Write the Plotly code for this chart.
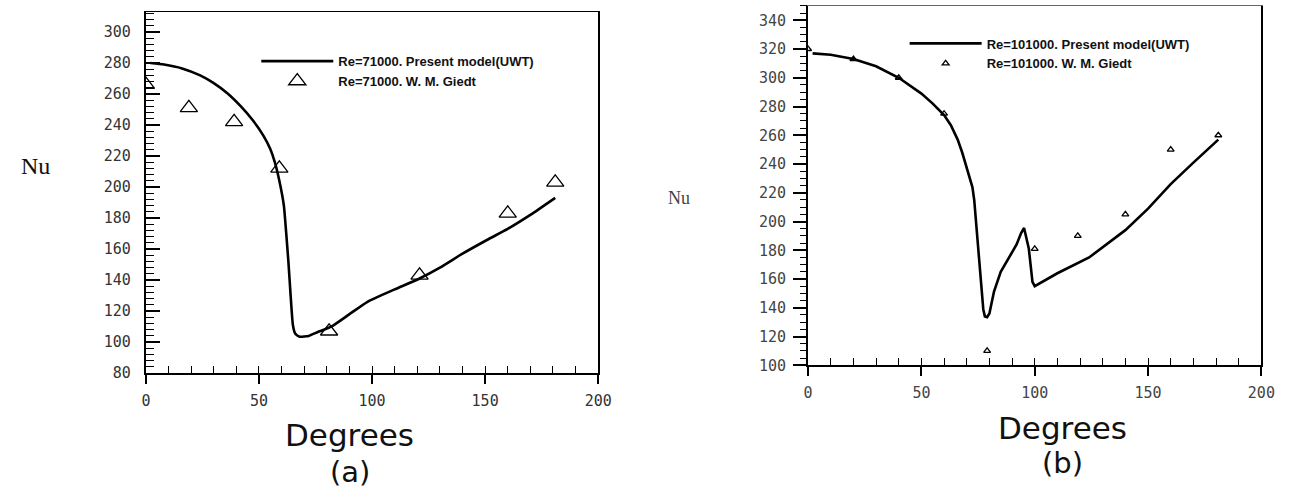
import plotly.graph_objects as go

# ---------------- data: panel (a) Re=71000 ----------------
deg_a_model = [2, 8, 16, 24, 30, 36, 42, 47, 52, 55, 57, 59, 61, 62, 63, 64, 65, 66, 68,
               72, 76, 82, 90, 98, 110, 121, 130, 140, 151, 160, 170, 181]
nu_a_model = [280, 279, 276.5, 272, 267, 260.5, 252, 243.5, 233, 224.5, 216, 204, 188,
              171, 152, 130, 111, 105.5, 103.5, 104, 106.5, 110, 118, 126, 134, 141,
              148, 157, 166, 173, 182, 193]
deg_a_exp = [0, 19, 39, 59, 81, 121, 160, 181]
nu_a_exp = [266, 251, 242, 212, 107, 143, 183, 203]

# ---------------- data: panel (b) Re=101000 ----------------
deg_b_model = [2, 10, 20, 30, 40, 50, 55, 60, 63, 66, 68, 70, 71.5, 72.5, 73.3, 74,
               74.6, 75.5, 76.5, 77.3, 78, 79, 80, 81, 82, 85, 88, 90, 92, 94, 95.3,
               97.4, 99, 100, 110, 124, 135, 140, 150, 160, 170, 181]
nu_b_model = [317, 316, 313, 308, 300, 289, 282, 274, 267, 257, 248, 238, 230, 224, 215,
              202, 190, 170, 151, 139, 134, 133.5, 136, 143, 151, 165, 173, 178, 184,
              192, 195.5, 181, 158, 155, 164, 175, 188, 194, 209, 226, 241, 257]
deg_b_exp = [0, 20, 40, 60, 79, 100, 119, 140, 160, 181]
nu_b_exp = [320, 313, 300, 275, 110, 181, 190, 205, 250, 260]

fig = go.Figure()

fig.add_trace(go.Scatter(x=deg_a_model, y=nu_a_model, mode="lines",
                         line=dict(color="black", width=2.6, shape="spline", smoothing=0.5),
                         name="Re=71000. Present model(UWT)",
                         xaxis="x", yaxis="y", legend="legend"))
fig.add_trace(go.Scatter(x=deg_a_exp, y=nu_a_exp, mode="markers",
                         marker=dict(symbol="triangle-up-open", size=15, color="black",
                                     line=dict(width=1.3)),
                         name="Re=71000. W. M. Giedt",
                         xaxis="x", yaxis="y", legend="legend"))
fig.add_trace(go.Scatter(x=deg_b_model, y=nu_b_model, mode="lines",
                         line=dict(color="black", width=2.6),
                         name="Re=101000. Present model(UWT)",
                         xaxis="x2", yaxis="y2", legend="legend2"))
fig.add_trace(go.Scatter(x=deg_b_exp, y=nu_b_exp, mode="markers",
                         marker=dict(symbol="triangle-up-open", size=6, color="black",
                                     line=dict(width=1.3)),
                         name="Re=101000. W. M. Giedt",
                         xaxis="x2", yaxis="y2", legend="legend2"))

# empty helper traces so that the frame / minor-tick overlay axes get drawn
for k in (3, 4, 5, 6):
    fig.add_trace(go.Scatter(x=[], y=[], mode="lines", showlegend=False,
                             hoverinfo="skip", xaxis=f"x{k}", yaxis=f"y{k}"))

tickfont_a = dict(family="DejaVu Sans Mono", size=15, color="#333")
tickfont_b = dict(family="DejaVu Sans Mono", size=15, color="#444")
legfont = dict(family="Liberation Sans", size=13, weight="bold", color="#111")

W, H = 1300, 497
XA = [143 / W, 602 / W]
YA = [(H - 380) / H, (H - 12) / H]
XB = [815 / W, 1275 / W]
YB = [(H - 372) / H, (H - 6) / H]
RA = [80, 313]
RB = [100, 350]


def main_x(dom, anchor, font):
    return dict(domain=dom, anchor=anchor, range=[0, 200], tick0=0, dtick=50,
                ticks="outside", ticklen=9, tickwidth=1.6, tickcolor="black",
                showline=True, linecolor="black", linewidth=2.2, showgrid=False,
                zeroline=False, tickfont=font, ticklabelstandoff=4)


def frame(dom, anchor, over, side, rng, color, width):
    return dict(domain=dom, anchor=anchor, overlaying=over, side=side, range=rng,
                showline=True, linecolor=color, linewidth=width, showticklabels=False,
                ticks="", showgrid=False, zeroline=False)


def minor(dom, anchor, over, side, rng, step, where, length):
    return dict(domain=dom, anchor=anchor, overlaying=over, side=side, range=rng,
                tick0=rng[0], dtick=step, ticks=where, ticklen=length, tickwidth=1.2,
                tickcolor="black", showline=False, showticklabels=False,
                showgrid=False, zeroline=False)


fig.update_layout(
    width=W, height=H,
    margin=dict(l=0, r=0, t=0, b=0),
    paper_bgcolor="white", plot_bgcolor="white",
    showlegend=True,
    xaxis=main_x(XA, "y", tickfont_a),
    yaxis=dict(domain=YA, anchor="x", range=RA, tick0=80, dtick=20,
               ticks="inside", ticklen=14, tickwidth=1.6, tickcolor="black",
               showline=True, linecolor="black", linewidth=2.2, showgrid=False,
               zeroline=False, tickfont=tickfont_a, ticklabelstandoff=10),
    xaxis2=main_x(XB, "y2", tickfont_b),
    yaxis2=dict(domain=YB, anchor="x2", range=RB, tick0=100, dtick=20,
                ticks="outside", ticklen=13, tickwidth=1.6, tickcolor="black",
                showline=True, linecolor="black", linewidth=2.2, showgrid=False,
                zeroline=False, tickfont=tickfont_b, ticklabelstandoff=4),
    # thin frame lines (top / right) of each panel
    xaxis3=frame(XA, "y", "x", "top", [0, 200], "black", 1.3),
    yaxis3=frame(YA, "x", "y", "right", RA, "black", 1.6),
    xaxis4=frame(XB, "y2", "x2", "top", [0, 200], "#666", 1.2),
    yaxis4=frame(YB, "x2", "y2", "right", RB, "black", 1.5),
    # minor tick marks
    xaxis5=minor(XA, "y", "x", "bottom", [0, 200], 10, "inside", 7),
    yaxis5=minor(YA, "x", "y", "left", RA, 4, "inside", 8),
    xaxis6=minor(XB, "y2", "x2", "bottom", [0, 200], 10, "inside", 7),
    yaxis6=minor(YB, "x2", "y2", "left", RB, 5, "outside", 7),
    legend=dict(x=255 / W, y=(H - 47) / H, xanchor="left", yanchor="top",
                bgcolor="rgba(0,0,0,0)", itemwidth=72, tracegroupgap=0, font=legfont),
    legend2=dict(x=913 / W, y=(H - 29) / H, xanchor="left", yanchor="top",
                 bgcolor="rgba(0,0,0,0)", itemwidth=72, tracegroupgap=0, font=legfont),
    annotations=[
        dict(text="Nu", x=31 / W, y=(H - 169) / H, xref="paper", yref="paper",
             xanchor="center", yanchor="middle", showarrow=False,
             font=dict(family="Liberation Serif", size=24, color="#111")),
        dict(text="Degrees", x=350 / W, y=(H - 443) / H, xref="paper", yref="paper",
             xanchor="center", yanchor="middle", showarrow=False,
             font=dict(family="DejaVu Sans", size=31, color="#111")),
        dict(text="(a)", x=350 / W, y=(H - 481) / H, xref="paper", yref="paper",
             xanchor="center", yanchor="middle", showarrow=False,
             font=dict(family="DejaVu Sans", size=29, color="#111")),
        dict(text="Nu", x=684 / W, y=(H - 202) / H, xref="paper", yref="paper",
             xanchor="center", yanchor="middle", showarrow=False,
             font=dict(family="Liberation Serif", size=18, color="#444")),
        dict(text="Degrees", x=1073 / W, y=(H - 436) / H, xref="paper", yref="paper",
             xanchor="center", yanchor="middle", showarrow=False,
             font=dict(family="DejaVu Sans", size=31, color="#111")),
        dict(text="(b)", x=1073 / W, y=(H - 472) / H, xref="paper", yref="paper",
             xanchor="center", yanchor="middle", showarrow=False,
             font=dict(family="DejaVu Sans", size=29, color="#111")),
    ],
)

fig.write_html("out.html")
